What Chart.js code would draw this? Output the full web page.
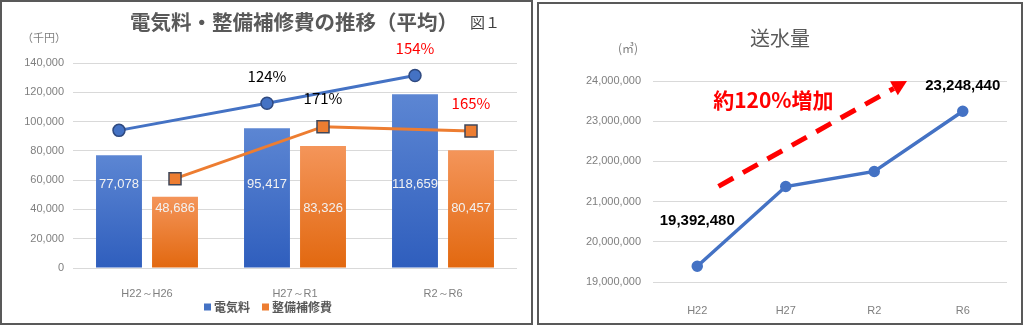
<!DOCTYPE html>
<html>
  <head>
    <script src="https://cdn.jsdelivr.net/npm/chart.js@4.4.0/dist/chart.umd.min.js"></script>
    <style>
      body {
        margin: 0;
        background: #ffffff;
      }
      .panel {
        position: absolute;
        box-sizing: border-box;
        border: 2px solid #595959;
        background: #ffffff;
      }
      #leftPanel {
        left: 0;
        top: 0;
        width: 533px;
        height: 325px;
      }
      #rightPanel {
        left: 537px;
        top: 2px;
        width: 486px;
        height: 323px;
      }
      canvas {
        display: block;
      }
    </style>
  </head>
  <body>
    <div class="panel" id="leftPanel">
      <canvas id="costChart" width="529" height="321"></canvas>
    </div>
    <div class="panel" id="rightPanel">
      <canvas id="waterChart" width="482" height="319"></canvas>
    </div>
    <script>
      // ---- data: left chart (電気料・整備補修費) ----
      var periods = ["H22～H26", "H27～R1", "R2～R6"];
      var elecCost = [77078, 95417, 118659];
      var maintCost = [48686, 83326, 80457];
      var elecTrend = [94000, 112500, 131500];
      var maintTrend = [61000, 96500, 93500];
      var elecPct = ["", "124%", "154%"];
      var elecPctColor = ["#000000", "#000000", "#FF0000"];
      var maintPct = ["", "171%", "165%"];
      var maintPctColor = ["#000000", "#000000", "#FF0000"];
      var costTicks = [0, 20000, 40000, 60000, 80000, 100000, 120000, 140000];

      // ---- data: right chart (送水量) ----
      var years = ["H22", "H27", "R2", "R6"];
      var waterVolume = [19392480, 21375000, 21750000, 23248440];
      var waterLabels = ["19,392,480", "", "", "23,248,440"];
      var waterTicks = [19000000, 20000000, 21000000, 22000000, 23000000, 24000000];

      var JP = '"Noto Sans CJK JP", "Noto Sans", sans-serif';
      var NUM = '"Liberation Sans", Arial, sans-serif';

      function barGradient(topColor, bottomColor) {
        return function (ctx) {
          var chart = ctx.chart;
          if (!chart.chartArea || ctx.type !== "data" || !chart.scales.y) return topColor;
          var y = chart.scales.y;
          var yTop = y.getPixelForValue(ctx.raw);
          var yBot = y.getPixelForValue(0);
          var g = chart.ctx.createLinearGradient(0, yTop, 0, yBot);
          g.addColorStop(0, topColor);
          g.addColorStop(1, bottomColor);
          return g;
        };
      }

      var costExtras = {
        id: "costExtras",
        // each trend point sits over the centre of its own bar
        afterDatasetsUpdate: function (chart) {
          [[0, 2], [1, 3]].forEach(function (p) {
            var bars = chart.getDatasetMeta(p[0]).data;
            chart.getDatasetMeta(p[1]).data.forEach(function (pt, i) {
              pt.x = bars[i].x;
            });
          });
        },
        afterDatasetsDraw: function (chart) {
          var ctx = chart.ctx;
          var y = chart.scales.y;
          ctx.save();
          ctx.textAlign = "center";
          ctx.textBaseline = "middle";
          // values inside bars
          ctx.font = "13px " + NUM;
          ctx.fillStyle = "#F2F2F2";
          chart.getDatasetMeta(0).data.forEach(function (bar, i) {
            ctx.fillText(elecCost[i].toLocaleString("en-US"), bar.x, y.getPixelForValue(57000));
          });
          chart.getDatasetMeta(1).data.forEach(function (bar, i) {
            ctx.fillText(maintCost[i].toLocaleString("en-US"), bar.x, y.getPixelForValue(41000));
          });
          // percentages above line points
          ctx.font = "15px " + JP;
          chart.getDatasetMeta(2).data.forEach(function (pt, i) {
            if (!elecPct[i]) return;
            ctx.fillStyle = elecPctColor[i];
            ctx.fillText(elecPct[i], pt.x, pt.y - 27);
          });
          chart.getDatasetMeta(3).data.forEach(function (pt, i) {
            if (!maintPct[i]) return;
            ctx.fillStyle = maintPctColor[i];
            ctx.fillText(maintPct[i], pt.x, pt.y - 28);
          });
          ctx.restore();
        },
        afterDraw: function (chart) {
          var ctx = chart.ctx;
          ctx.save();
          ctx.textBaseline = "middle";
          ctx.textAlign = "center";
          ctx.fillStyle = "#595959";
          ctx.font = "bold 20.5px " + JP;
          ctx.fillText("電気料・整備補修費の推移（平均）", 292, 20);
          ctx.fillStyle = "#404040";
          ctx.font = "15px " + JP;
          ctx.fillText("図１", 483, 20);
          ctx.fillStyle = "#7F7F7F";
          ctx.font = "11px " + JP;
          ctx.fillText("（千円）", 42, 36);

          // legend
          var items = [
            { text: "電気料", color: "#4472C4" },
            { text: "整備補修費", color: "#ED7D31" }
          ];
          ctx.font = "bold 12px " + JP;
          ctx.textAlign = "left";
          var box = 7, gapIn = 3, gapOut = 12, total = 0;
          items.forEach(function (it, i) {
            total += box + gapIn + ctx.measureText(it.text).width + (i ? 0 : gapOut);
          });
          var x = 266 - total / 2, ly = 305;
          items.forEach(function (it) {
            ctx.fillStyle = it.color;
            ctx.fillRect(x, ly - box / 2, box, box);
            x += box + gapIn;
            ctx.fillStyle = "#595959";
            ctx.fillText(it.text, x, ly);
            x += ctx.measureText(it.text).width + gapOut;
          });
          ctx.restore();
        }
      };

      new Chart(document.getElementById("costChart"), {
        type: "bar",
        data: {
          labels: periods,
          datasets: [
            {
              label: "電気料",
              data: elecCost,
              backgroundColor: barGradient("#5C86D3", "#2F5EBD"),
              categoryPercentage: 0.757,
              barPercentage: 0.82,
              order: 2
            },
            {
              label: "整備補修費",
              data: maintCost,
              backgroundColor: barGradient("#F4955A", "#E2680F"),
              categoryPercentage: 0.757,
              barPercentage: 0.82,
              order: 2
            },
            {
              type: "line",
              label: "電気料 推移",
              data: elecTrend,
              borderColor: "#4472C4",
              borderWidth: 3,
              pointStyle: "circle",
              pointRadius: 6,
              pointBackgroundColor: "#4472C4",
              pointBorderColor: "#2F4A80",
              pointBorderWidth: 1.5,
              fill: false,
              order: 0
            },
            {
              type: "line",
              label: "整備補修費 推移",
              data: maintTrend,
              borderColor: "#ED7D31",
              borderWidth: 3,
              pointStyle: "rect",
              pointRadius: 8.5,
              pointBackgroundColor: "#ED7D31",
              pointBorderColor: "#3F4658",
              pointBorderWidth: 1.5,
              fill: false,
              order: 0
            }
          ]
        },
        options: {
          responsive: false,
          animation: false,
          layout: { padding: { top: 61, right: 14, left: 0, bottom: 0 } },
          plugins: { legend: { display: false }, tooltip: { enabled: false } },
          scales: {
            x: {
              offset: true,
              grid: { display: false },
              border: { display: false },
              ticks: { color: "#7F7F7F", font: { family: NUM, size: 11 }, padding: 11 },
              afterFit: function (s) { s.height = 55; }
            },
            y: {
              min: 0,
              max: 140000,
              afterBuildTicks: function (s) { s.ticks = costTicks.map(function (v) { return { value: v }; }); },
              grid: { color: "#D9D9D9", drawTicks: false },
              border: { display: false },
              ticks: { color: "#7F7F7F", font: { family: NUM, size: 11 }, padding: 9 },
              afterFit: function (s) { s.width = 71; }
            }
          }
        },
        plugins: [costExtras]
      });

      // ---- right chart ----
      var arrowFrom = { x: 0.24, y: 21380000 };
      var arrowTo = { x: 2.37, y: 24000000 };
      var arrowText = { x: 0.86, y: 23530000, text: "約120%増加" };
      var labelLift = [45, 0, 0, 25];

      var waterExtras = {
        id: "waterExtras",
        afterDatasetsDraw: function (chart) {
          var ctx = chart.ctx;
          var xs = chart.scales.x, ys = chart.scales.y;
          ctx.save();
          // dashed arrow
          var x0 = xs.getPixelForValue(arrowFrom.x), y0 = ys.getPixelForValue(arrowFrom.y);
          var x1 = xs.getPixelForValue(arrowTo.x), y1 = ys.getPixelForValue(arrowTo.y);
          var ang = Math.atan2(y1 - y0, x1 - x0);
          var head = 15, half = 8;
          var bx = x1 - Math.cos(ang) * head, by = y1 - Math.sin(ang) * head;
          ctx.strokeStyle = "#FF0000";
          ctx.fillStyle = "#FF0000";
          ctx.lineWidth = 5;
          ctx.setLineDash([17, 11]);
          ctx.beginPath();
          ctx.moveTo(x0, y0);
          ctx.lineTo(bx, by);
          ctx.stroke();
          ctx.setLineDash([]);
          ctx.beginPath();
          ctx.moveTo(x1, y1);
          ctx.lineTo(bx + Math.sin(ang) * half, by - Math.cos(ang) * half);
          ctx.lineTo(bx - Math.sin(ang) * half, by + Math.cos(ang) * half);
          ctx.closePath();
          ctx.fill();

          ctx.textAlign = "center";
          ctx.textBaseline = "middle";
          ctx.font = "bold 21px " + JP;
          ctx.fillText(arrowText.text, xs.getPixelForValue(arrowText.x), ys.getPixelForValue(arrowText.y));

          // point labels
          ctx.fillStyle = "#000000";
          ctx.font = "bold 15px " + NUM;
          chart.getDatasetMeta(0).data.forEach(function (pt, i) {
            if (!waterLabels[i]) return;
            ctx.fillText(waterLabels[i], pt.x, pt.y - labelLift[i]);
          });

          // title & unit
          ctx.fillStyle = "#595959";
          ctx.font = "20px " + JP;
          ctx.fillText("送水量", 241, 34);
          ctx.fillStyle = "#7F7F7F";
          ctx.font = "12px " + JP;
          ctx.fillText("(㎥)", 89, 44);
          ctx.restore();
        }
      };

      new Chart(document.getElementById("waterChart"), {
        type: "line",
        data: {
          labels: years,
          datasets: [
            {
              label: "送水量",
              data: waterVolume,
              borderColor: "#4472C4",
              borderWidth: 3.5,
              pointRadius: 4,
              pointBackgroundColor: "#4472C4",
              pointBorderColor: "#4472C4",
              fill: false,
              tension: 0
            }
          ]
        },
        options: {
          responsive: false,
          animation: false,
          layout: { padding: { top: 77, right: 14, left: 0, bottom: 0 } },
          plugins: { legend: { display: false }, tooltip: { enabled: false } },
          scales: {
            x: {
              offset: true,
              grid: { display: false },
              border: { display: false },
              ticks: { color: "#7F7F7F", font: { family: NUM, size: 11 }, padding: 14 },
              afterFit: function (s) { s.height = 41; }
            },
            y: {
              min: 19000000,
              max: 24000000,
              afterBuildTicks: function (s) { s.ticks = waterTicks.map(function (v) { return { value: v }; }); },
              grid: { color: "#D9D9D9", drawTicks: false },
              border: { display: false },
              ticks: { color: "#7F7F7F", font: { family: NUM, size: 11 }, padding: 12 },
              afterFit: function (s) { s.width = 114; }
            }
          }
        },
        plugins: [waterExtras]
      });
    </script>
  </body>
</html>
